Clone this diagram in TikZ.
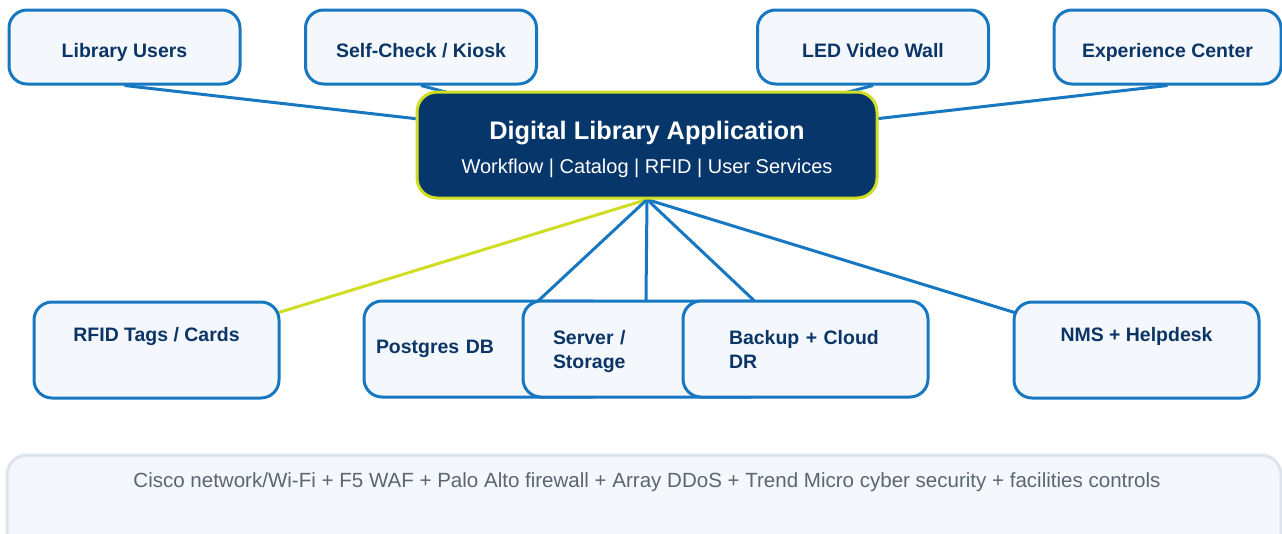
\documentclass[tikz,border=0pt]{standalone}
\usepackage{fontspec}
\setmainfont{Liberation Sans}
\definecolor{LIBblue}{HTML}{1877C1}
\definecolor{LIBnavy}{HTML}{0B3566}
\definecolor{LIBdeep}{HTML}{07366A}
\definecolor{LIBlime}{HTML}{CFDE22}
\definecolor{LIBpale}{HTML}{F4F8FC}
\definecolor{LIBgray}{HTML}{DEE4EB}
\definecolor{LIBtext}{HTML}{5B6573}
\usetikzlibrary{backgrounds}

\begin{document}
\begin{tikzpicture}[
      x=0.75pt, y=-0.75pt,
      basebox/.style={draw=LIBblue, fill=LIBpale, line width=2.25pt, rounded corners=13.5pt,
         text=LIBnavy, font=\fontsize{14.6}{18}\selectfont\bfseries, align=center, inner sep=0pt},
      topbox/.style={basebox, minimum width=173.25pt, minimum height=55.5pt,
         text height=18pt, text depth=3pt},
      botbox/.style={basebox, minimum width=183.75pt, minimum height=72pt},
      link/.style={LIBblue, line width=2.25pt},
      rfidlink/.style={LIBlime, line width=2.25pt},
   ]
      \useasboundingbox (0,0) rectangle (1282,533);

      % top row
      \node[topbox] (users) at (124.5,47) {Library Users};
      \node[topbox] (kiosk) at (421,47) {Self-Check / Kiosk};
      \node[topbox] (wall) at (873,47) {LED Video Wall};
      \node[topbox, minimum width=170.25pt] (expo) at (1167.5,47) {Experience Center};

      % application
      \node[draw=LIBlime, fill=LIBdeep, line width=2.25pt, rounded corners=15pt,
            minimum width=345pt, minimum height=79.5pt, align=center, text=white] (app) at (647,145)
         {\rule{0pt}{20pt}{\fontsize{19}{23}\selectfont\bfseries Digital Library Application}\\[9.5pt]
          {\fontsize{15}{18}\selectfont Workflow | Catalog | RFID | User Services}};

      % bottom row
      \node[botbox] (rfid) at (156.5,350) {RFID Tags / Cards\\\strut};
      \node[botbox, text width=165.75pt, align=left] (pgdb) at (486.5,349) {Postgres DB};
      \node[botbox, text width=138.75pt, align=left] (store) at (645.5,349) {\rule{0pt}{15pt}Server /\\Storage};
      \node[botbox, text width=114.75pt, align=left] (backup) at (805.5,349) {Backup + Cloud\\DR};
      \node[botbox] (nms) at (1136.5,350) {NMS + Helpdesk\\\strut};

      % infrastructure panel
      \node[draw=LIBgray, fill=LIBpale, line width=2.25pt, rounded corners=15pt,
            minimum width=955.5pt, minimum height=78.75pt] (infra) at (644,507.5) {};
      \node[font=\fontsize{15.4}{18}\selectfont, text=LIBtext] (infratxt) at (647,482)
         {Cisco network/Wi-Fi + F5 WAF + Palo Alto firewall + Array DDoS + Trend Micro cyber security + facilities controls};

      % connectors
      \begin{scope}[on background layer]
         \draw[link] (users.south) -- (app.center);
         \draw[link] (kiosk.south) -- (app.center);
         \draw[link] (wall.south) -- (app.center);
         \draw[link] (expo.south) -- (app.center);
         \draw[rfidlink] (app.south) -- (rfid.center);
         \draw[link] (app.south) -- (pgdb.center);
         \draw[link] (app.south) -- (store.center);
         \draw[link] (app.south) -- (backup.center);
         \draw[link] (app.south) -- (nms.center);
      \end{scope}
   \end{tikzpicture}
\end{document}
